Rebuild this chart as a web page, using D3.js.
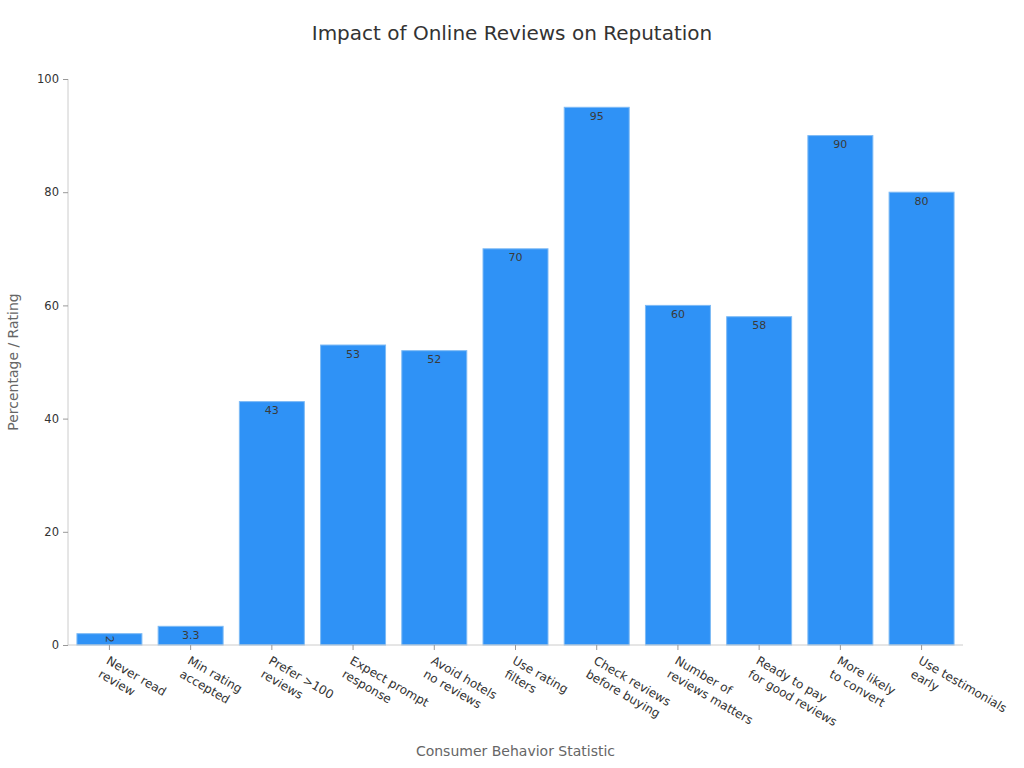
<!DOCTYPE html>
<html>
<head>
<meta charset="utf-8">
<script src="https://cdn.jsdelivr.net/npm/d3@7"></script>
<style>
  body { margin: 0; background: #fff; }
  svg { font-family: "DejaVu Sans", sans-serif; }
</style>
</head>
<body>
<div id="wrapper"></div>
<script>
// chart data
const categories = [
  ["Never read", "review"],
  ["Min rating", "accepted"],
  ["Prefer >100", "reviews"],
  ["Expect prompt", "response"],
  ["Avoid hotels", "no reviews"],
  ["Use rating", "filters"],
  ["Check reviews", "before buying"],
  ["Number of", "reviews matters"],
  ["Ready to pay", "for good reviews"],
  ["More likely", "to convert"],
  ["Use testimonials", "early"]
]
const values = [2, 3.3, 43, 53, 52, 70, 95, 60, 58, 90, 80]
const yTicks = [0, 20, 40, 60, 80, 100]

function drawBarChart() {
  // 1. dimensions
  let dimensions = {
    width: 1024,
    height: 768,
    margin: { top: 79, right: 61, bottom: 123, left: 68 }
  }
  dimensions.boundedWidth = dimensions.width - dimensions.margin.left - dimensions.margin.right
  dimensions.boundedHeight = dimensions.height - dimensions.margin.top - dimensions.margin.bottom

  const data = values.map((v, i) => ({ label: categories[i], value: v, key: i }))

  // 2. scales
  const xScale = d3.scaleBand()
    .domain(data.map(d => d.key))
    .range([0, dimensions.boundedWidth])
    .paddingInner(0.2)
    .paddingOuter(0.11)

  const yScale = d3.scaleLinear()
    .domain([0, 100])
    .range([dimensions.boundedHeight, 0])

  // 3. canvas
  const wrapper = d3.select("#wrapper")
    .append("svg")
      .attr("width", dimensions.width)
      .attr("height", dimensions.height)

  const bounds = wrapper.append("g")
    .attr("transform", `translate(${dimensions.margin.left},${dimensions.margin.top})`)

  // 4. bars
  bounds.selectAll("rect.bar")
    .data(data)
    .join("rect")
      .attr("class", "bar")
      .attr("x", d => xScale(d.key))
      .attr("y", d => yScale(d.value))
      .attr("width", xScale.bandwidth())
      .attr("height", d => yScale(0) - yScale(d.value))
      .attr("fill", "#2f92f6")
      .attr("stroke", "#7dbaf5")
      .attr("stroke-width", 1)

  // value labels
  bounds.selectAll("text.val")
    .data(data)
    .join("text")
      .attr("class", "val")
      .attr("font-size", 11)
      .attr("fill", "#3a3a3a")
      .attr("text-anchor", "middle")
      .attr("dominant-baseline", "central")
      .attr("transform", d => {
        const cx = xScale(d.key) + xScale.bandwidth() / 2
        const h = yScale(0) - yScale(d.value)
        if (h < 14) return `translate(${cx},${yScale(d.value) + h / 2}) rotate(90)`
        return `translate(${cx},${yScale(d.value) + 9})`
      })
      .text(d => d.value)

  // 5. axes
  const yAxis = d3.axisLeft(yScale).tickValues(yTicks).tickSize(5).tickPadding(4)
  const yg = bounds.append("g").call(yAxis)
  yg.select(".domain").attr("stroke", "#ccc").attr("d", `M0,${dimensions.boundedHeight}V0`)
  yg.selectAll(".tick line").attr("stroke", "#999")
  yg.selectAll(".tick text").attr("font-size", 11.5).attr("fill", "#333").attr("font-family", "DejaVu Sans, sans-serif")

  const xAxis = d3.axisBottom(xScale).tickSize(5).tickFormat("")
  const xg = bounds.append("g")
    .attr("transform", `translate(0,${dimensions.boundedHeight})`)
    .call(xAxis)
  xg.select(".domain").attr("stroke", "#ccc").attr("d", `M0,0H${dimensions.boundedWidth}`)
  xg.selectAll(".tick line").attr("stroke", "#999")

  const labels = xg.selectAll(".tick")
    .append("text")
      .attr("fill", "#333")
      .attr("font-size", 12)
      .attr("font-family", "DejaVu Sans, sans-serif")
      .attr("text-anchor", "start")
      .attr("transform", "translate(-4,18) rotate(30)")
  labels.selectAll("tspan")
    .data(k => categories[k])
    .join("tspan")
      .attr("x", 0)
      .attr("dy", (d, i) => i === 0 ? "0" : "1.3em")
      .text(d => d)

  // 6. titles
  wrapper.append("text")
    .attr("x", dimensions.width / 2)
    .attr("y", 40)
    .attr("text-anchor", "middle")
    .attr("font-size", 20)
    .attr("fill", "#333")
    .text("Impact of Online Reviews on Reputation")

  wrapper.append("text")
    .attr("x", dimensions.margin.left + dimensions.boundedWidth / 2)
    .attr("y", 756)
    .attr("text-anchor", "middle")
    .attr("font-size", 14)
    .attr("fill", "#666")
    .text("Consumer Behavior Statistic")

  wrapper.append("text")
    .attr("transform", `translate(18,${dimensions.margin.top + dimensions.boundedHeight / 2}) rotate(-90)`)
    .attr("text-anchor", "middle")
    .attr("font-size", 14)
    .attr("fill", "#666")
    .text("Percentage / Rating")
}

drawBarChart()
</script>
</body>
</html>
